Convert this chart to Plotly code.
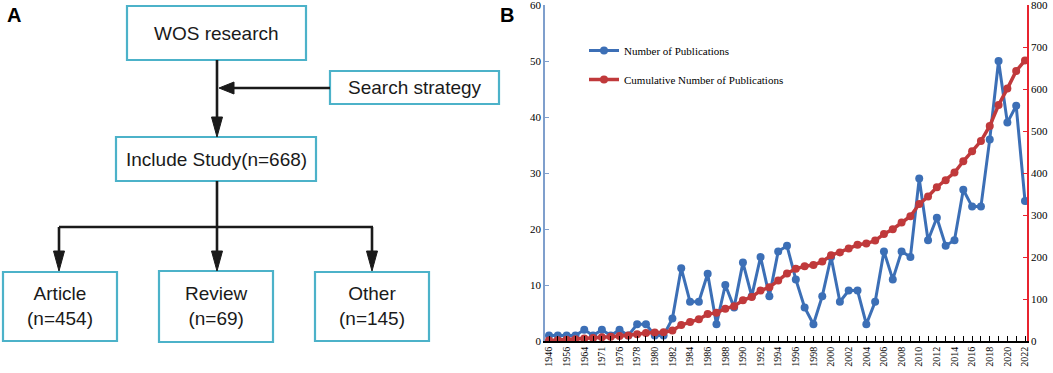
import plotly.graph_objects as go

# ---------------- data ----------------
years = ["1946", "1950", "1956", "1960", "1964", "1968", "1971", "1974", "1976", "1977",
         "1978", "1979", "1980", "1981", "1982", "1983", "1984", "1985", "1986", "1987",
         "1988", "1989", "1990", "1991", "1992", "1993", "1994", "1995", "1996", "1997",
         "1998", "1999", "2000", "2001", "2002", "2003", "2004", "2005", "2006", "2007",
         "2008", "2009", "2010", "2011", "2012", "2013", "2014", "2015", "2016", "2017",
         "2018", "2019", "2020", "2021", "2022"]
labelled_years = ["1946", "1956", "1964", "1971", "1976"] + [str(y) for y in range(1978, 2023, 2)]

publications = [1, 1, 1, 1, 2, 1, 2, 1, 2, 1,
                3, 3, 1, 1, 4, 13, 7, 7, 12, 3,
                10, 6, 14, 8, 15, 8, 16, 17, 11, 6,
                3, 8, 15, 7, 9, 9, 3, 7, 16, 11,
                16, 15, 29, 18, 22, 17, 18, 27, 24, 24,
                36, 50, 39, 42, 25]
cumulative = [1, 2, 3, 4, 6, 7, 9, 10, 12, 13,
              16, 19, 20, 21, 25, 38, 45, 52, 64, 67,
              77, 83, 97, 105, 120, 128, 144, 161, 172, 178,
              181, 189, 204, 211, 220, 229, 232, 239, 255, 266,
              282, 297, 326, 344, 366, 383, 401, 428, 452, 476,
              512, 562, 601, 643, 668]

flow_nodes = ["WOS research", "Search strategy", "Include Study(n=668)",
              "Article<br>(n=454)", "Review<br>(n=69)", "Other<br>(n=145)"]

# ---------------- layout helpers (pixels -> paper) ----------------
W, H = 1053, 373
def px(x):
    return x / W
def py(y):
    return 1 - y / H

BLUE = "#3c6fb6"
RED = "#c0393b"
TEAL = "#4cb2c9"
SERIF = "Liberation Serif, Times New Roman, serif"
SANS = "Liberation Sans, Arial, sans-serif"

fig = go.Figure()
fig.add_trace(go.Scatter(x=years, y=publications, name="Number of Publications",
                         mode="lines+markers", line=dict(color=BLUE, width=3),
                         marker=dict(color=BLUE, size=8), legendgroup="a",
                         yaxis="y"))
fig.add_trace(go.Scatter(x=years, y=cumulative, name="Cumulative Number of Publications",
                         mode="lines+markers", line=dict(color=RED, width=3.5),
                         marker=dict(color=RED, size=8), legendgroup="b",
                         yaxis="y2"))

ticktext = [y if y in labelled_years else "" for y in years]

shapes = []
annotations = []

# boxes
boxes = [
    (127, 6, 306, 60, 216.5, 33),
    (330, 71, 499, 104, 414.5, 88),
    (116, 137, 316, 181, 216, 159),
    (3, 272, 117, 341, 60, 306),
    (159, 271, 273, 342, 216, 306),
    (315, 272, 429, 341, 372, 306),
]
for (x0, y0, x1, y1, cx, cy), text in zip(boxes, flow_nodes):
    shapes.append(dict(type="rect", xref="paper", yref="paper",
                       x0=px(x0), x1=px(x1), y0=py(y1), y1=py(y0),
                       line=dict(color=TEAL, width=2.2), fillcolor="white", layer="below"))
    annotations.append(dict(text=text, xref="paper", yref="paper", x=px(cx), y=py(cy),
                            showarrow=False, xanchor="center", yanchor="middle",
                            font=dict(family=SANS, size=19, color="#1a1a1a")))

def seg(x0, y0, x1, y1):
    shapes.append(dict(type="line", xref="paper", yref="paper",
                       x0=px(x0), y0=py(y0), x1=px(x1), y1=py(y1),
                       line=dict(color="#1a1a1a", width=2.6)))

def head_down(x, tip):
    pts = [(x - 5.5, tip - 20), (x + 5.5, tip - 20), (x, tip)]
    d = "M " + " L ".join(f"{px(a)},{py(b)}" for a, b in pts) + " Z"
    shapes.append(dict(type="path", xref="paper", yref="paper", path=d,
                       fillcolor="#1a1a1a", line=dict(color="#1a1a1a", width=1)))

def head_left(tip, y):
    pts = [(tip + 15, y - 6), (tip + 15, y + 6), (tip, y)]
    d = "M " + " L ".join(f"{px(a)},{py(b)}" for a, b in pts) + " Z"
    shapes.append(dict(type="path", xref="paper", yref="paper", path=d,
                       fillcolor="#1a1a1a", line=dict(color="#1a1a1a", width=1)))

seg(217, 60, 217, 122)
head_down(217, 137)
seg(330, 88, 228, 88)
head_left(219, 88)
seg(217, 181, 217, 227)
seg(59, 227, 373, 227)
seg(59, 227, 59, 256)
head_down(59, 271)
seg(217, 227, 217, 256)
head_down(217, 271)
seg(372, 227, 372, 256)
head_down(372, 271)

annotations.append(dict(text="<b>A</b>", xref="paper", yref="paper", x=px(14), y=py(15),
                        showarrow=False, xanchor="center", yanchor="middle",
                        font=dict(family=SANS, size=20, color="black")))
annotations.append(dict(text="<b>B</b>", xref="paper", yref="paper", x=px(507), y=py(15),
                        showarrow=False, xanchor="center", yanchor="middle",
                        font=dict(family=SANS, size=20, color="black")))

step = (1025 - 549) / 54.0
xr = [-(549 - 545) / step, 54 + (1027 - 1025) / step]

fig.update_layout(
    width=W, height=H,
    margin=dict(l=0, r=0, t=0, b=0),
    paper_bgcolor="white", plot_bgcolor="rgba(0,0,0,0)",
    showlegend=True,
    legend=dict(x=px(584), y=py(36), xanchor="left", yanchor="top",
                bgcolor="rgba(0,0,0,0)", tracegroupgap=10,
                font=dict(family=SERIF, size=11, color="black")),
    xaxis=dict(domain=[px(545), px(1027)], type="category", range=xr,
               tickmode="array", tickvals=years, ticktext=ticktext,
               tickangle=-90, ticks="inside", ticklen=5, tickcolor="black", tickwidth=1.3,
               showline=True, linecolor="black", linewidth=1.5, showgrid=False,
               zeroline=False, automargin=False,
               tickfont=dict(family=SERIF, size=10, color="black"), anchor="y"),
    yaxis=dict(domain=[py(341), py(5)], range=[0, 60], dtick=10,
               ticks="inside", ticklen=4, tickcolor="#7f9fcc",
               showline=True, linecolor="#7f9fcc", linewidth=1.5, showgrid=False,
               zeroline=False, automargin=False, ticklabeloverflow="allow",
               tickfont=dict(family=SERIF, size=11, color="black")),
    yaxis2=dict(overlaying="y", side="right", range=[0, 800], dtick=100,
                ticks="inside", ticklen=4, tickcolor="#e8242f",
                showline=True, linecolor="#e8242f", linewidth=1.5, showgrid=False,
                zeroline=False, automargin=False, anchor="x", ticklabeloverflow="allow",
                tickfont=dict(family=SERIF, size=11, color="black")),
    shapes=shapes,
    annotations=annotations,
)

fig.write_html("out.html", config={"displayModeBar": False},
               post_script="document.body.style.margin='0';document.body.style.padding='0';"
                           "document.documentElement.style.overflow='hidden';")
